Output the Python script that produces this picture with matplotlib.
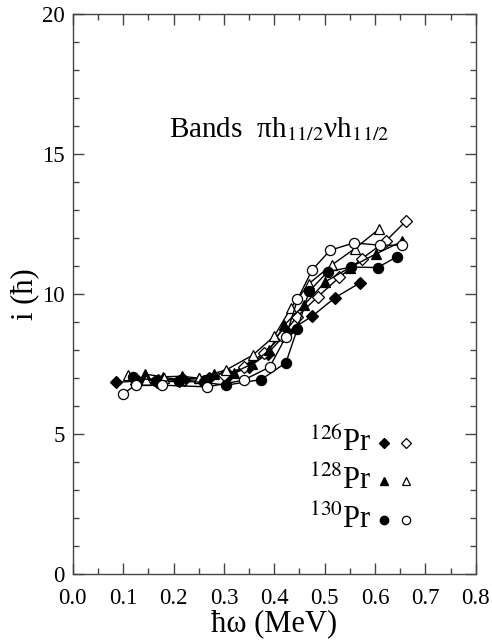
import matplotlib.pyplot as plt
from matplotlib.ticker import MultipleLocator

plt.rcParams['font.family'] = ['Liberation Serif', 'DejaVu Serif']
plt.rcParams['mathtext.fontset'] = 'stix'

# 126Pr
x_126_f = [0.085, 0.13, 0.17, 0.22, 0.27, 0.31, 0.35, 0.387, 0.426, 0.475, 0.521, 0.570]
y_126_f = [6.85, 6.9, 6.95, 6.95, 7.0, 7.1, 7.4, 7.88, 8.65, 9.21, 9.88, 10.4]
x_126_o = [0.125, 0.168, 0.21, 0.26, 0.30, 0.34, 0.38, 0.415, 0.445, 0.486, 0.529, 0.574, 0.621, 0.662]
y_126_o = [6.8, 6.85, 6.9, 6.9, 7.1, 7.4, 7.9, 8.5, 9.2, 9.9, 10.6, 11.27, 11.89, 12.62]

# 128Pr
x_128_f = [0.144, 0.18, 0.216, 0.25, 0.28, 0.32, 0.355, 0.39, 0.42, 0.459, 0.501, 0.55, 0.601, 0.654]
y_128_f = [7.14, 7.05, 7.07, 7.0, 7.14, 7.2, 7.5, 8.0, 8.9, 9.61, 10.44, 10.95, 11.43, 11.89]
x_128_o = [0.11, 0.145, 0.181, 0.215, 0.25, 0.304, 0.357, 0.40, 0.433, 0.469, 0.514, 0.560, 0.607]
y_128_o = [7.1, 6.95, 7.02, 6.95, 7.02, 7.29, 7.82, 8.5, 9.51, 10.38, 11.04, 11.63, 12.31]

# 130Pr
x_130_f = [0.12, 0.165, 0.21, 0.26, 0.304, 0.374, 0.423, 0.446, 0.469, 0.506, 0.553, 0.605, 0.643]
y_130_f = [7.05, 6.9, 6.9, 6.85, 6.75, 6.95, 7.55, 8.77, 10.1, 10.8, 10.97, 10.95, 11.33]
x_130_o = [0.10, 0.125, 0.177, 0.267, 0.339, 0.391, 0.423, 0.446, 0.475, 0.511, 0.558, 0.609, 0.654]
y_130_o = [6.45, 6.75, 6.75, 6.69, 6.93, 7.4, 8.48, 9.81, 10.86, 11.57, 11.83, 11.75, 11.75]

nuclei = [r'$^{126}$Pr', r'$^{128}$Pr', r'$^{130}$Pr']
markers = ['D', '^', 'o']
legend_y = [4.7, 3.32, 1.95]

fig = plt.figure(figsize=(4.92, 6.43), dpi=100)
ax = fig.add_axes([0.148, 0.107, 0.819, 0.871])

series = [
    (x_126_f, y_126_f, 'D', 'black'), (x_126_o, y_126_o, 'D', 'white'),
    (x_128_f, y_128_f, '^', 'black'), (x_128_o, y_128_o, '^', 'white'),
    (x_130_f, y_130_f, 'o', 'black'), (x_130_o, y_130_o, 'o', 'white'),
]
for xs, ys, m, fc in series:
    ms = 6 if m == 'D' else 7.3
    ax.plot(xs, ys, color='black', lw=1, marker=m, ms=ms, mfc=fc, mec='black', mew=0.9)

ax.set_xlim(0, 0.8)
ax.set_ylim(0, 20)
ax.xaxis.set_major_locator(MultipleLocator(0.1))
ax.xaxis.set_minor_locator(MultipleLocator(0.05))
ax.yaxis.set_major_locator(MultipleLocator(5))
ax.yaxis.set_minor_locator(MultipleLocator(1))
ax.xaxis.set_major_formatter(plt.FuncFormatter(lambda v, p: f'{v:.1f}'))
ax.tick_params(which='both', direction='in', top=True, right=True, labelsize=16.5, color='#444444')
ax.tick_params(which='major', length=8, width=1)
ax.tick_params(which='minor', length=4, width=1)
ax.tick_params(axis='x', pad=10)
ax.tick_params(axis='y', pad=6)
for s in ax.spines.values():
    s.set_color('#444444')
    s.set_linewidth(1)

ax.set_xlabel('ħω (MeV)', fontsize=22, labelpad=0)
ax.set_ylabel('i (ħ)', fontsize=22, labelpad=2)

ax.text(0.41, 15.9, r'Bands  πh$_{11/2}$νh$_{11/2}$', fontsize=21, ha='center', va='center')

for lab, m, yy in zip(nuclei, markers, legend_y):
    ax.text(0.593, yy, lab, fontsize=22, ha='right', va='center')
    ms = 5 if m == 'D' else 6
    ax.plot([0.617], [yy], marker=m, ms=ms, mfc='black', mec='black', ls='none')
    ax.plot([0.661], [yy], marker=m, ms=ms, mfc='white', mec='black', mew=0.9, ls='none')

fig.savefig('out.png', dpi=100)
